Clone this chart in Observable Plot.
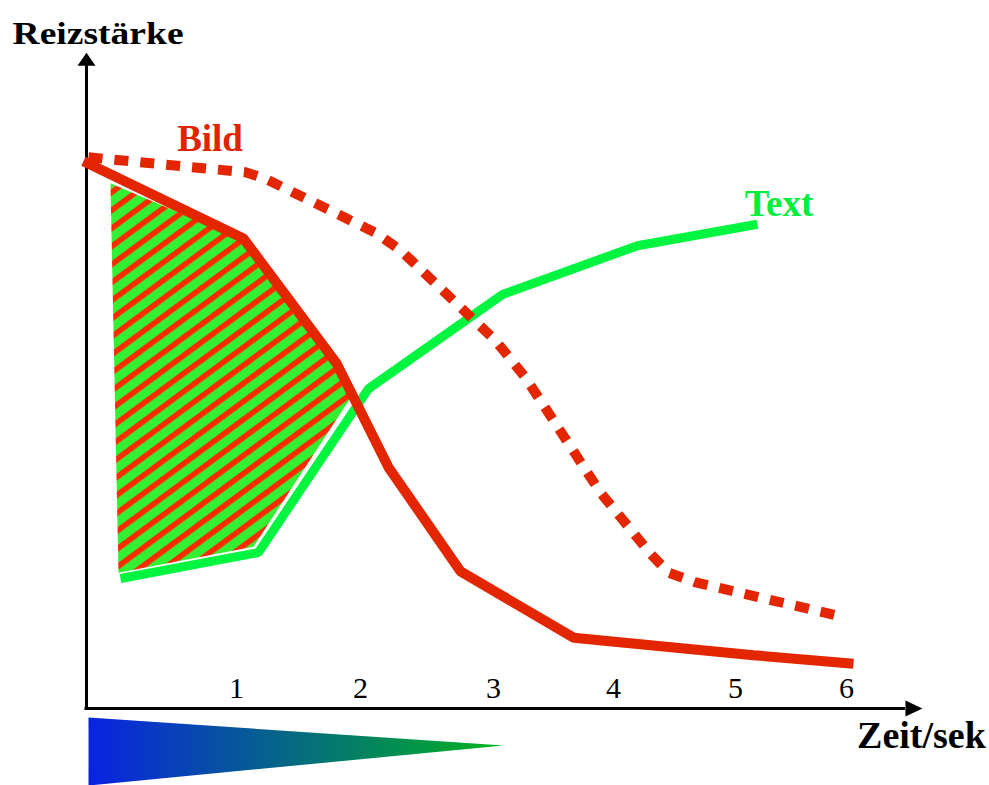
<!DOCTYPE html>
<html>
<head>
<meta charset="utf-8">
<script src="https://cdn.jsdelivr.net/npm/d3@7"></script>
<script src="https://cdn.jsdelivr.net/npm/@observablehq/plot@0.6"></script>
<style>
  html, body { margin: 0; padding: 0; background: #fff; overflow: hidden; }
  svg { display: block; }
</style>
</head>
<body>
<div id="chart"></div>
<script>
// ---- data (time in seconds, stimulus strength in arbitrary units 0..100) ----
const tickLabels = ["1", "2", "3", "4", "5", "6"];
const tickLabelTime = [1.183, 2.160, 3.209, 4.155, 5.117, 5.992];

// Bild (image) – solid red
const bildSolidTime  = [-0.024, 1.238, 1.971, 2.381, 2.949, 3.840, 5.259, 6.047];
const bildSolidValue = [84.2, 72.3, 53.1, 37.1, 21.1, 10.9, 8.2, 6.9];

// Bild (image) – dashed red
const bildDashTime  = [0.016, 1.254, 1.411, 2.279, 2.476, 3.225, 3.461, 4.053, 4.447, 4.589, 4.802, 5.984];
const bildDashValue = [84.8, 82.5, 81.5, 73.2, 70.5, 56.6, 50.9, 33.2, 23.8, 20.9, 19.4, 14.0];

// Text – green
const textTime  = [0.268, 1.356, 2.223, 3.280, 4.344, 5.290];
const textValue = [20.0, 24.0, 49.2, 63.7, 71.2, 74.5];

// hatched overlap region
const overlapTime  = [0.189, 1.238, 1.963, 2.082, 1.317, 0.252, 0.189];
const overlapValue = [80.8, 72.0, 52.8, 47.8, 24.9, 20.9, 80.8];

// gradient wedge under the time axis
const wedgeTime  = [0.016, 3.288, 0.016, 0.016];
const wedgeValue = [-1.38, -5.69, -11.85, -1.38];

// labels
const seriesLabels = ["Bild", "Text"];
const seriesLabelTime = [0.974, 5.46];
const seriesLabelValue = [85.8, 75.7];
const seriesLabelColor = ["#e02400", "#00ee3c"];

const axisTitles = ["Reizstärke", "Zeit/sek"];
const axisTitleTime = [-0.583, 6.583];
const axisTitleValue = [102.3, -6.0];

const xAxisEnd = 6.457;
const yAxisEnd = 98.9;

// ---- build tables ----
const zip = (ts, vs) => ts.map((t, i) => ({t, v: vs[i]}));
const bildSolid = zip(bildSolidTime, bildSolidValue);
const bildDash = zip(bildDashTime, bildDashValue);
const textLine = zip(textTime, textValue);
const overlap = zip(overlapTime, overlapValue);
const wedge = zip(wedgeTime, wedgeValue);
const ticks = tickLabels.map((s, i) => ({s, t: tickLabelTime[i], v: 1.54}));
const sLabels = seriesLabels.map((s, i) => ({s, t: seriesLabelTime[i], v: seriesLabelValue[i], c: seriesLabelColor[i]}));

const defs = () => {
  const d = d3.create("svg:defs");
  const p = d.append("pattern")
    .attr("id", "hatch")
    .attr("patternUnits", "userSpaceOnUse")
    .attr("width", 20).attr("height", 14.5)
    .attr("patternTransform", "rotate(-36.5)");
  p.append("rect").attr("width", 20).attr("height", 14.5).attr("fill", "#33f033");
  p.append("rect").attr("y", 0).attr("width", 20).attr("height", 5.6).attr("fill", "#ff2a00");
  const g = d.append("linearGradient")
    .attr("id", "wedgeGrad")
    .attr("x1", 0).attr("x2", 1).attr("y1", 0).attr("y2", 0);
  g.append("stop").attr("offset", 0).attr("stop-color", "#0a22e2");
  g.append("stop").attr("offset", 1).attr("stop-color", "#00b41e");
  return d.node();
};

const chart = Plot.plot({
  width: 989,
  height: 785,
  margin: 0,
  x: {type: "linear", domain: [0, 6], range: [86, 847], axis: null},
  y: {type: "linear", domain: [0, 100], range: [708, 58], axis: null},
  style: {background: "#fff", overflow: "visible"},
  marks: [
    defs,
    // hatched overlap
    Plot.line(overlap, {x: "t", y: "v", fill: "url(#hatch)", stroke: "none", curve: "linear"}),
    // gradient wedge
    Plot.line(wedge, {x: "t", y: "v", fill: "url(#wedgeGrad)", stroke: "none", curve: "linear"}),
    // axes
    Plot.ruleY([0], {y: d => d, x1: -0.012, x2: xAxisEnd, stroke: "#000", strokeWidth: 3}),
    Plot.ruleX([0], {x: d => d, y1: 0, y2: yAxisEnd, stroke: "#000", strokeWidth: 3}),
    Plot.vector([{t: xAxisEnd, v: 0}], {x: "t", y: "v", rotate: 90, length: 17, r: 8, shape: "spike", anchor: "start", fill: "#000", stroke: "none"}),
    Plot.vector([{t: 0, v: yAxisEnd}], {x: "t", y: "v", rotate: 0, length: 13, r: 9, shape: "spike", anchor: "start", fill: "#000", stroke: "none"}),
    // series
    Plot.line(textLine, {x: "t", y: "v", stroke: "#00f540", strokeWidth: 9, strokeLinejoin: "miter", strokeLinecap: "butt"}),
    Plot.line(bildSolid, {x: "t", y: "v", stroke: "#e32600", strokeWidth: 10, strokeLinejoin: "miter", strokeLinecap: "butt"}),
    Plot.line(bildDash, {x: "t", y: "v", stroke: "#e32600", strokeWidth: 10, strokeDasharray: "14,12", strokeLinejoin: "miter", strokeLinecap: "butt"}),
    // tick labels
    Plot.text(ticks, {x: "t", y: "v", text: "s", lineAnchor: "bottom", textAnchor: "middle", fontFamily: "Liberation Serif", fontSize: 30, fill: "#000"}),
    // series labels
    Plot.text(sLabels, {x: "t", y: "v", text: "s", fill: d => d.c, lineAnchor: "bottom", textAnchor: "middle", fontFamily: "Liberation Serif", fontWeight: "bold", fontSize: 37}),
    // axis titles
    Plot.text([0], {x: () => axisTitleTime[0], y: () => axisTitleValue[0], text: () => axisTitles[0], lineAnchor: "bottom", textAnchor: "start", fontFamily: "Liberation Serif", fontWeight: "bold", fontSize: 31, fill: "#000"}),
    Plot.text([0], {x: () => axisTitleTime[1], y: () => axisTitleValue[1], text: () => axisTitles[1], lineAnchor: "bottom", textAnchor: "middle", fontFamily: "Liberation Serif", fontWeight: "bold", fontSize: 38, fill: "#000"})
  ]
});

// the y title is drawn horizontally stretched in the reference
chart.querySelectorAll("text").forEach(el => {
  if (el.textContent === "Reizstärke") {
    el.setAttribute("textLength", "171");
    el.setAttribute("lengthAdjust", "spacingAndGlyphs");
  }
});

document.getElementById("chart").appendChild(chart);
</script>
</body>
</html>
